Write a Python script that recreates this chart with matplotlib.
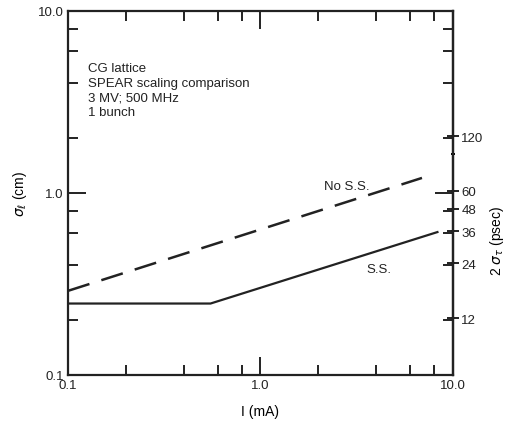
import numpy as np
import matplotlib.pyplot as plt
from matplotlib.ticker import FixedLocator, NullFormatter

plt.rcParams['font.family'] = ['Liberation Sans', 'DejaVu Sans']

# beam current (mA) and bunch length (cm)
i_ss = [0.1, 0.55, 8.3]
sigma_ss = [0.247, 0.247, 0.61]
i_noss = [0.1, 6.9]
sigma_noss = [0.29, 1.21]

x_ticks = [0.1, 1.0, 10.0]
x_labels = ['0.1', '1.0', '10.0']
y_ticks = [0.1, 1.0, 10.0]
y_labels = ['0.1', '1.0', '10.0']
psec_ticks = [12, 24, 36, 48, 60, 120]
psec_minor = [96]
cm_to_psec = 58.5

info = ['CG lattice', 'SPEAR scaling comparison', '3 MV; 500 MHz', '1 bunch']

fig, ax = plt.subplots(figsize=(5.1, 4.27), dpi=100)
fig.subplots_adjust(left=68/510, right=453/510, top=1-12/427, bottom=1-376/427)

ax.set_xscale('log')
ax.set_yscale('log')
ax.set_xlim(0.1, 10)
ax.set_ylim(0.1, 10)

ax.plot(i_ss, sigma_ss, color='#222222', lw=1.6)
ax.plot(i_noss, sigma_noss, color='#222222', lw=1.8, dashes=(9, 5))

ax.set_xticks(x_ticks)
ax.set_xticklabels(x_labels)
ax.set_yticks(y_ticks)
ax.set_yticklabels(y_labels)
minors = [k * d for d in (0.1, 1.0) for k in (2, 4, 6, 8)]
ax.xaxis.set_minor_locator(FixedLocator(minors))
ax.yaxis.set_minor_locator(FixedLocator(minors))
ax.xaxis.set_minor_formatter(NullFormatter())
ax.yaxis.set_minor_formatter(NullFormatter())
ax.tick_params(which='both', direction='in', top=True, right=True,
               width=1.4, labelsize=9.5, colors='#222222')
ax.tick_params(which='major', length=13, pad=3)
ax.tick_params(which='minor', length=7)

for s in ax.spines.values():
    s.set_linewidth(1.6)
    s.set_color('#222222')

ax.set_xlabel('I (mA)', fontsize=10, labelpad=9)
ax.set_ylabel(r'$\sigma_\ell$ (cm)', fontsize=10)
ax.yaxis.set_label_coords(-0.1, 0.5)

sec = ax.secondary_yaxis('right', functions=(lambda s: s * cm_to_psec,
                                              lambda t: t / cm_to_psec))
sec.set_yticks(psec_ticks)
sec.set_yticklabels([str(t) for t in psec_ticks])
sec.yaxis.set_minor_locator(FixedLocator(psec_minor))
sec.yaxis.set_minor_formatter(NullFormatter())
sec.tick_params(which='major', direction='inout', length=8, width=1.4,
                labelsize=9.5, pad=2, colors='#222222')
sec.tick_params(which='minor', direction='inout', length=3, width=1.4)
sec.spines['right'].set_linewidth(1.6)
sec.set_ylabel(r'2 $\sigma_\tau$ (psec)', fontsize=10)
sec.yaxis.set_label_coords(1.09, 0.37, transform=ax.transAxes)

ax.text(0.052, 0.86, '\n'.join(info), transform=ax.transAxes,
        fontsize=9.5, va='top', ha='left', linespacing=1.3, color='#222222')
ax.text(2.8, 1.09, 'No S.S.', fontsize=9.5, ha='center', va='center', color='#222222')
ax.text(4.1, 0.38, 'S.S.', fontsize=9.5, ha='center', va='center', color='#222222')

fig.savefig('out.png', dpi=100)
